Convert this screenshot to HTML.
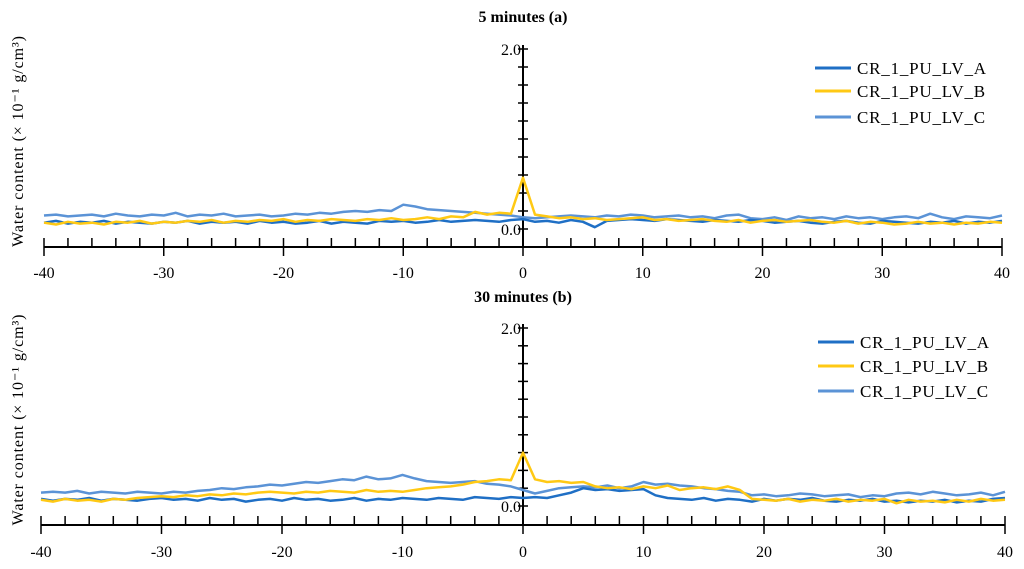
<!DOCTYPE html>
<html><head><meta charset="utf-8"><style>
body{margin:0;background:#fff;}
svg{display:block;font-family:"Liberation Serif",serif;}
</style></head><body>
<svg id="chart" width="1024" height="569"></svg>
<script>
const xs = [];
for (let i = -40; i <= 40; i++) xs.push(i);
const seriesNames = ["CR_1_PU_LV_A","CR_1_PU_LV_B","CR_1_PU_LV_C"];
const topA = [0.07,0.09,0.06,0.08,0.07,0.09,0.06,0.08,0.07,0.06,0.08,0.07,0.09,0.06,0.08,0.07,0.08,0.06,0.09,0.07,0.08,0.06,0.07,0.09,0.06,0.08,0.07,0.06,0.09,0.08,0.09,0.07,0.08,0.10,0.08,0.09,0.10,0.09,0.08,0.10,0.11,0.08,0.09,0.07,0.10,0.08,0.02,0.09,0.10,0.11,0.10,0.09,0.11,0.10,0.09,0.08,0.10,0.09,0.08,0.10,0.09,0.07,0.08,0.09,0.07,0.06,0.08,0.09,0.07,0.06,0.09,0.08,0.07,0.06,0.08,0.07,0.09,0.06,0.08,0.07,0.09];
const topB = [0.07,0.05,0.08,0.06,0.07,0.05,0.08,0.07,0.09,0.06,0.08,0.07,0.09,0.08,0.10,0.07,0.09,0.08,0.10,0.09,0.11,0.08,0.10,0.09,0.11,0.10,0.09,0.11,0.10,0.12,0.10,0.11,0.13,0.11,0.14,0.13,0.19,0.16,0.18,0.17,0.57,0.16,0.14,0.12,0.13,0.11,0.12,0.10,0.11,0.12,0.13,0.10,0.11,0.09,0.10,0.11,0.09,0.08,0.10,0.07,0.09,0.10,0.08,0.09,0.10,0.08,0.07,0.09,0.06,0.08,0.07,0.05,0.06,0.08,0.06,0.07,0.05,0.07,0.06,0.08,0.07];
const topC = [0.15,0.16,0.14,0.15,0.16,0.14,0.17,0.15,0.14,0.16,0.15,0.18,0.14,0.16,0.15,0.17,0.14,0.15,0.16,0.14,0.15,0.17,0.16,0.18,0.17,0.19,0.20,0.19,0.21,0.20,0.27,0.25,0.22,0.21,0.20,0.19,0.18,0.17,0.16,0.15,0.13,0.12,0.13,0.14,0.15,0.14,0.13,0.15,0.14,0.16,0.15,0.13,0.14,0.15,0.13,0.14,0.12,0.15,0.16,0.12,0.11,0.13,0.10,0.14,0.12,0.13,0.11,0.14,0.12,0.13,0.11,0.13,0.14,0.12,0.17,0.13,0.11,0.14,0.13,0.12,0.15];
const botA = [0.08,0.06,0.08,0.07,0.09,0.06,0.08,0.07,0.06,0.08,0.09,0.07,0.08,0.06,0.09,0.07,0.08,0.05,0.07,0.08,0.06,0.09,0.07,0.08,0.06,0.07,0.09,0.06,0.08,0.07,0.09,0.08,0.07,0.09,0.08,0.07,0.10,0.09,0.08,0.10,0.09,0.10,0.09,0.12,0.15,0.20,0.18,0.19,0.17,0.18,0.19,0.12,0.09,0.08,0.07,0.09,0.06,0.08,0.07,0.05,0.08,0.06,0.08,0.07,0.09,0.06,0.05,0.07,0.06,0.08,0.05,0.06,0.04,0.06,0.05,0.07,0.04,0.06,0.05,0.08,0.09];
const botB = [0.07,0.05,0.08,0.06,0.07,0.05,0.08,0.07,0.09,0.10,0.11,0.10,0.12,0.11,0.13,0.12,0.14,0.13,0.15,0.16,0.15,0.14,0.16,0.15,0.17,0.16,0.15,0.18,0.16,0.17,0.16,0.18,0.20,0.21,0.22,0.24,0.27,0.28,0.30,0.29,0.60,0.30,0.27,0.28,0.26,0.27,0.22,0.20,0.21,0.19,0.22,0.20,0.23,0.18,0.20,0.21,0.19,0.22,0.18,0.08,0.07,0.06,0.08,0.05,0.07,0.06,0.08,0.05,0.07,0.06,0.08,0.03,0.07,0.05,0.06,0.04,0.07,0.05,0.08,0.06,0.07];
const botC = [0.15,0.16,0.15,0.17,0.14,0.16,0.15,0.14,0.16,0.15,0.14,0.16,0.15,0.17,0.18,0.20,0.19,0.21,0.22,0.24,0.23,0.25,0.27,0.26,0.28,0.30,0.29,0.33,0.30,0.31,0.35,0.31,0.28,0.27,0.26,0.27,0.28,0.25,0.24,0.22,0.18,0.14,0.17,0.20,0.21,0.22,0.21,0.23,0.20,0.22,0.27,0.24,0.25,0.23,0.22,0.20,0.19,0.17,0.16,0.12,0.13,0.11,0.12,0.14,0.13,0.11,0.12,0.13,0.10,0.12,0.11,0.14,0.15,0.13,0.16,0.14,0.12,0.13,0.15,0.12,0.16];
const yTicks = [0,0.2,0.4,0.6,0.8,1.0,1.2,1.4,1.6,1.8,2.0];
const xLabels = [-40,-30,-20,-10,0,10,20,30,40];
const colors = ["#1f6fc5","#ffc914","#5b93d6"];

const NS = "http://www.w3.org/2000/svg";
const svg = document.getElementById("chart");
function el(tag, attrs, parent, text){
  const e = document.createElementNS(NS, tag);
  for (const k in attrs) e.setAttribute(k, attrs[k]);
  if (text !== undefined) e.textContent = text;
  (parent || svg).appendChild(e);
  return e;
}
const panels = [
  {key:"top", title:"5 minutes (a)", titleY:22, x0:44, x1:1002, y0:229, y2:49, axisY:247, yTop:45, labelY:278, legX:815, legY:[68,91,117], data:[topA,topB,topC]},
  {key:"bottom", title:"30 minutes (b)", titleY:302, x0:41, x1:1005, y0:506, y2:328, axisY:525, yTop:324, labelY:557, legX:818, legY:[342,366,391], data:[botA,botB,botC]}
];
panels.forEach(p=>{
  const g = el("g",{});
  
  
  const sx = v => p.x0 + (v + 40) / 80 * (p.x1 - p.x0);
  const sy = v => p.y0 - v / 2 * (p.y0 - p.y2);
  const cx = sx(0);
  const t = el("text",{x:cx, y:p.titleY, "text-anchor":"middle", "font-weight":"bold", "font-size":"16"}, g, p.title);
  
  
  const yl = el("text",{x:0,y:0,transform:`translate(23,${(p.yTop+p.axisY)/2 - 5}) rotate(-90)`,"text-anchor":"middle","font-size":"16","letter-spacing":"0.9"}, g, "Water content (× 10⁻¹ g/cm³)");
  
  
  const xa = el("line",{x1:p.x0,x2:p.x1,y1:p.axisY,y2:p.axisY,stroke:"#000","stroke-width":"2"}, g);
  
  
  for (let v=-40; v<=40; v+=2){
    const major = v % 10 === 0;
    el("line",{x1:sx(v),x2:sx(v),y1:p.axisY-9,y2:major?p.axisY+9:p.axisY,stroke:"#000","stroke-width":"1.5"}, g);
  }
  xLabels.forEach(v=>{
    const tl = el("text",{x:sx(v),y:p.labelY,"text-anchor":"middle","font-size":"16"}, g, String(v));
    
    
  });
  const ya = el("line",{x1:cx,x2:cx,y1:p.yTop,y2:p.axisY,stroke:"#000","stroke-width":"2"}, g);
  
  
  yTicks.forEach(v=>{
    el("line",{x1:cx-5,x2:cx+5,y1:sy(v),y2:sy(v),stroke:"#000","stroke-width":"1.5"}, g);
  });
  [0,2].forEach(v=>{
    const yt = el("text",{x:cx-2,y:sy(v)+6,"text-anchor":"end","font-size":"16"}, g, v.toFixed(1));
    
    
  });
  [2,0,1].forEach(i=>{
    const d = p.data[i].map((v,k)=>(k?"L":"M")+sx(xs[k]).toFixed(1)+","+sy(v).toFixed(1)).join("");
    const path = el("path",{d:d,fill:"none",stroke:colors[i],"stroke-width":"2.5","stroke-linejoin":"round"}, g);
    
    
  });
  seriesNames.forEach((n,i)=>{
    const lg = el("g",{}, g);
    
    
    el("line",{x1:p.legX,x2:p.legX+36,y1:p.legY[i],y2:p.legY[i],stroke:colors[i],"stroke-width":"3"}, lg);
    el("text",{x:p.legX+42,y:p.legY[i]+6,"font-size":"17","letter-spacing":"0.8"}, lg, n);
  });
});
</script>
</body></html>
